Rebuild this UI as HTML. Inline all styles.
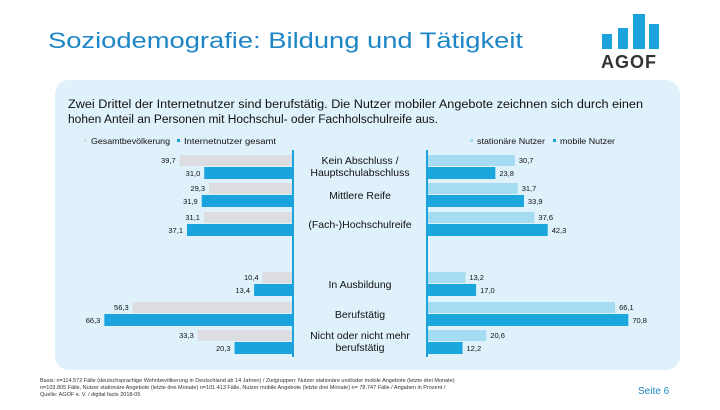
<!DOCTYPE html>
<html><head><meta charset="utf-8"><style>
body{margin:0;width:720px;height:405px;background:#fff;overflow:hidden;font-family:"Liberation Sans",sans-serif}
</style></head><body>
<svg width="720" height="405" xmlns="http://www.w3.org/2000/svg" font-family="Liberation Sans, sans-serif">
<text x="48" y="48" font-size="22" fill="#1f86c6" textLength="475" lengthAdjust="spacingAndGlyphs">Soziodemografie: Bildung und Tätigkeit</text>
<g>
<rect x="602" y="34" width="10" height="15" fill="#1ba3dc"/><rect x="618" y="28" width="10" height="21" fill="#1ba3dc"/>
<rect x="633" y="14" width="12" height="35" fill="#1ba3dc"/><rect x="649" y="24" width="10" height="25" fill="#1ba3dc"/>
<text x="601" y="68" font-size="18" font-weight="bold" fill="#333" letter-spacing="1">AGOF</text></g>
<rect x="55" y="80" width="625" height="290" rx="14" fill="#dff1fb"/>
<g font-size="11.5" fill="#111">
<text x="68" y="108" textLength="575" lengthAdjust="spacingAndGlyphs">Zwei Drittel der Internetnutzer sind berufstätig. Die Nutzer mobiler Angebote zeichnen sich durch einen</text>
<text x="68" y="123" textLength="370" lengthAdjust="spacingAndGlyphs">hohen Anteil an Personen mit Hochschul- oder Fachholschulreife aus.</text></g>
<g font-size="8.5" fill="#111">
<rect x="84" y="139" width="3" height="3" fill="#dcdcdc"/>
<text x="91" y="144" textLength="79" lengthAdjust="spacingAndGlyphs">Gesamtbevölkerung</text>
<rect x="177" y="139" width="3" height="3" fill="#1aa3dc"/>
<text x="184" y="144" textLength="92" lengthAdjust="spacingAndGlyphs">Internetnutzer gesamt</text>
<rect x="470" y="139" width="3" height="3" fill="#a6dcf2"/>
<text x="477" y="144" textLength="68" lengthAdjust="spacingAndGlyphs">stationäre Nutzer</text>
<rect x="553" y="139" width="3" height="3" fill="#1aa3dc"/>
<text x="560" y="144" textLength="55" lengthAdjust="spacingAndGlyphs">mobile Nutzer</text>
</g>
<g id="bars"></g>
<rect x="292" y="150" width="2" height="207" fill="#1aa3dc"/>
<rect x="426" y="150" width="2" height="207" fill="#1aa3dc"/>
<text font-size="5.5" fill="#333"><tspan x="40" y="382">Basis: n=114.572 Fälle (deutschsprachige Wohnbevölkerung in Deutschland ab 14 Jahren) / Zielgruppen: Nutzer stationäre und/oder mobile Angebote (letzte drei Monate)</tspan><tspan x="40" y="389">n=103.805 Fälle, Nutzer stationäre Angebote (letzte drei Monate) n=101.413 Fälle, Nutzer mobile Angebote (letzte drei Monate) n= 78.747 Fälle / Angaben in Prozent /</tspan><tspan x="40" y="396">Quelle: AGOF e. V. / digital facts 2018-05</tspan></text>
<text x="638" y="394" font-size="10" fill="#1f86c6">Seite 6</text>
</svg>
<script>
const categories=["Kein Abschluss / Hauptschulabschluss","Mittlere Reife","(Fach-)Hochschulreife","In Ausbildung","Berufstätig","Nicht oder nicht mehr berufstätig"];
const gesamt=[39.7,29.3,31.1,10.4,56.3,33.3];
const internet=[31.0,31.9,37.1,13.4,66.3,20.3];
const stationaer=[30.7,31.7,37.6,13.2,66.1,20.6];
const mobil=[23.8,33.9,42.3,17.0,70.8,12.2];
const groupTops=[155,183,212,272,302,330];
const NS="http://www.w3.org/2000/svg";
const g=document.getElementById('bars');
const k=2.83, L=292, R=428;
const fmt=v=>v.toFixed(1).replace('.',',');
function rect(x,y,w,h,fill,name){const r=document.createElementNS(NS,'rect');r.setAttribute('x',x);r.setAttribute('y',y);r.setAttribute('width',w);r.setAttribute('height',h);r.setAttribute('fill',fill);


g.appendChild(r);}
function txt(x,y,s,anchor,size,name){const t=document.createElementNS(NS,'text');t.setAttribute('x',x);t.setAttribute('y',y);t.setAttribute('text-anchor',anchor);t.setAttribute('font-size',size);t.setAttribute('fill','#111');t.textContent=s;


g.appendChild(t);return t;}
categories.forEach((c,i)=>{
 const y=groupTops[i];
 const w1=gesamt[i]*k,w2=internet[i]*k,w3=stationaer[i]*k,w4=mobil[i]*k;
 rect(L-w1,y,w1,11,'#dcdde0','bar-gesamt');
 rect(L-w2,y+12,w2,12,'#1aa3dc','bar-internet');
 rect(R,y,w3,11,'#a6dcf2','bar-stationaer');
 rect(R,y+12,w4,12,'#1ba6dc','bar-mobil');
 txt(L-w1-4,y+8,fmt(gesamt[i]),'end',7.5,'value-gesamt');
 txt(L-w2-4,y+21,fmt(internet[i]),'end',7.5,'value-internet');
 txt(R+w3+4,y+8,fmt(stationaer[i]),'start',7.5,'value-stationaer');
 txt(R+w4+4,y+21,fmt(mobil[i]),'start',7.5,'value-mobil');
 const lines=c==="Kein Abschluss / Hauptschulabschluss"?["Kein Abschluss /","Hauptschulabschluss"]:c==="Nicht oder nicht mehr berufstätig"?["Nicht oder nicht mehr","berufstätig"]:[c];
 const t=txt(360,0,'','middle',10.5,'category-label');
 lines.forEach((l,j)=>{const s=document.createElementNS(NS,'tspan');s.setAttribute('x',360);s.setAttribute('y',y+(lines.length===1?16:9)+j*12);s.textContent=l;t.appendChild(s);});
});
</script>
</body></html>
